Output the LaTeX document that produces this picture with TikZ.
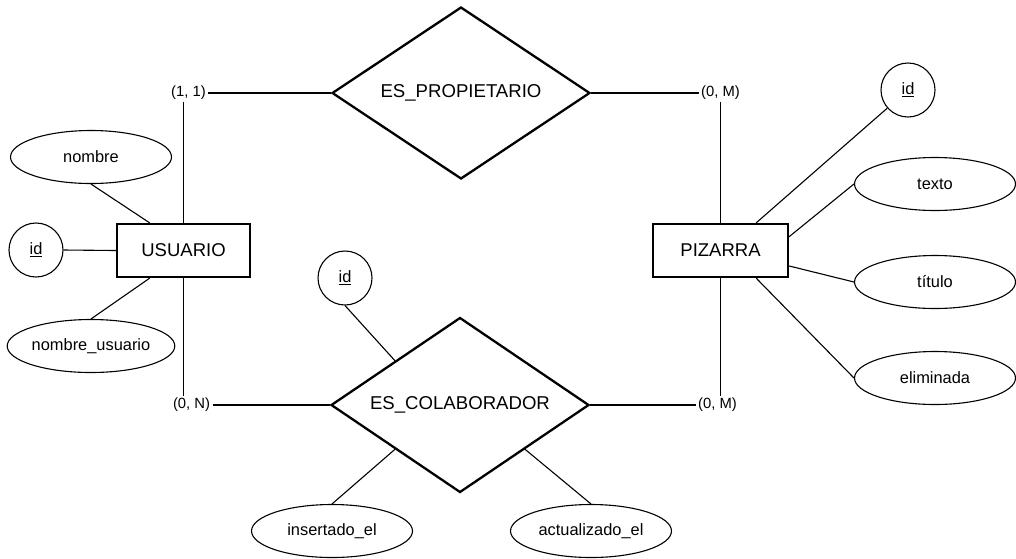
\documentclass[tikz,border=0pt]{standalone}
\usepackage{fontspec}
\setmainfont{Liberation Sans}
\usetikzlibrary{shapes.geometric,calc}

\tikzset{
  thin line/.style={line width=1.1pt},
  attr/.style={ellipse, draw, thin line, minimum width=161pt, minimum height=53pt,
    inner sep=0pt, font=\fontsize{16.4}{19}\selectfont},
  keyattr/.style={circle, draw, thin line, minimum size=54pt, inner sep=0pt,
    font=\fontsize{16.4}{19}\selectfont},
  entity/.style={rectangle, draw, line width=2.3pt, minimum width=133pt,
    minimum height=53pt, inner sep=0pt, font=\fontsize{18.5}{22}\selectfont},
  relation/.style={diamond, draw, line width=2.3pt, aspect=1.5, inner sep=0pt,
    minimum width=258pt, minimum height=172pt, font=\fontsize{18.6}{22}\selectfont},
  card/.style={fill=white, inner sep=2.5pt, font=\fontsize{14.8}{17}\selectfont},
}

\begin{document}
\begin{tikzpicture}[x=1pt, y=-1pt]
  \useasboundingbox (0,0) rectangle (1016,558);

  % entities
  \node[entity] (usr) at (183.5,250.5) {USUARIO};
  \node[entity, minimum width=135pt] (piz) at (720.5,250.5) {PIZARRA};

  % relationships
  \node[relation] (prop) at (461,93) {ES\_PROPIETARIO};
  \node[relation, minimum height=175pt] (colab) at (460,405) {ES\_COLABORADOR};

  % USUARIO attributes
  \node[attr] (nombre) at (91,157) {nombre};
  \node[keyattr] (uid) at (36,250) {\underline{id}};
  \node[attr] (nusr) at (91,346) {nombre\_usuario};

  % PIZARRA attributes
  \node[keyattr] (pid) at (908,90) {\underline{id}};
  \node[attr] (texto) at (935,184) {texto};
  \node[attr] (titulo) at (935,282) {título};
  \node[attr] (elim) at (935,378) {eliminada};

  % ES_COLABORADOR attributes
  \node[keyattr] (cid) at (345,278) {\underline{id}};
  \node[attr] (ins) at (332,531) {insertado\_el};
  \node[attr] (act) at (591,531) {actualizado\_el};

  % attribute links
  \draw[thin line] (nombre.south) -- ($(usr.north west)!0.25!(usr.north east)$);
  \draw[thin line] (uid.east) -- (usr.west);
  \draw[thin line] (nusr.north) -- ($(usr.south west)!0.25!(usr.south east)$);

  \draw[thin line] (pid) -- ($(piz.north west)!0.76!(piz.north east)$);
  \draw[thin line] (texto.west) -- ($(piz.north east)!0.25!(piz.south east)$);
  \draw[thin line] (titulo.west) -- ($(piz.north east)!0.78!(piz.south east)$);
  \draw[thin line] (elim.west) -- ($(piz.south west)!0.76!(piz.south east)$);

  \draw[thin line] (cid.south) -- ($(colab.west)!0.5!(colab.north)$);
  \draw[thin line] (ins.north) -- ($(colab.west)!0.5!(colab.south)$);
  \draw[thin line] (act.north) -- ($(colab.east)!0.5!(colab.south)$);

  % relationship links with cardinalities
  \draw[thin line] (usr.north) |- node[card, xshift=5pt] {(1, 1)} (prop.west);
  \draw[thin line] (piz.north) |- node[card] {(0, M)} (prop.east);
  \draw[thin line] (usr.south) |- node[card, xshift=8pt] {(0, N)} (colab.west);
  \draw[thin line] (piz.south) |- node[card, xshift=-3pt] {(0, M)} (colab.east);
\end{tikzpicture}
\end{document}
